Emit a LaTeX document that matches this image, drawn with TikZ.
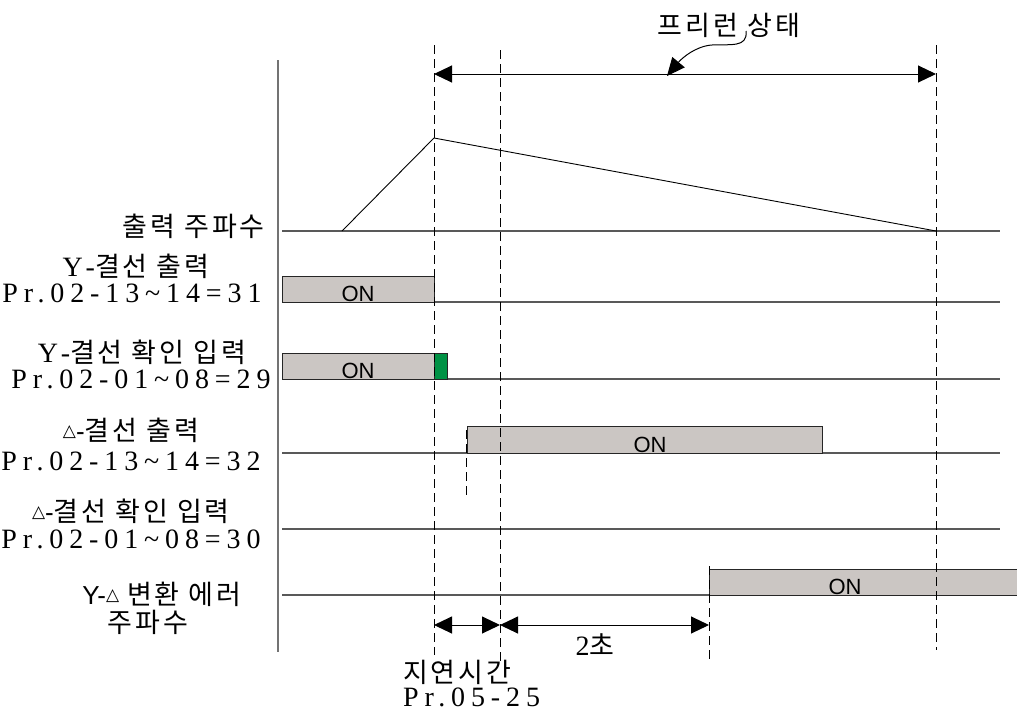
\documentclass[tikz,border=0pt]{standalone}
\usepackage{fontspec}
\setmainfont{Liberation Serif}
\newfontfamily\kr[LetterSpace=11]{Noto Sans CJK KR}
\newfontfamily\sr[LetterSpace=21]{Liberation Serif}
\newfontfamily\ar{Liberation Sans}
\newfontfamily\dv{DejaVu Sans}
\usetikzlibrary{arrows.meta}
\definecolor{boxgray}{HTML}{CBC6C3}
\definecolor{boxgreen}{HTML}{009245}
\newcommand{\tri}{{\dv\fontsize{17}{17}\selectfont\raisebox{4pt}{△}}}
\newcommand{\KR}[1]{{\kr\fontsize{27}{30}\selectfont #1}}
\newcommand{\SR}[1]{{\sr\fontsize{28}{30}\selectfont #1}}
\newcommand{\AR}[1]{{\ar\fontsize{26}{30}\selectfont #1}}
\begin{document}
\begin{tikzpicture}[x=1pt,y=-1pt,
  rowline/.style={draw=black!65, line width=1.1pt},
  axisline/.style={draw=black!55, line width=1.6pt},
  dashline/.style={draw=black, line width=0.9pt, dash pattern=on 9pt off 5pt},
  onbox/.style={draw=black!85, fill=boxgray, line width=0.9pt},
  greenbox/.style={draw=black!85, fill=boxgreen, line width=0.9pt},
  ontext/.style={font=\ar\fontsize{22}{22}\selectfont, anchor=base, inner sep=0pt},
  lbl/.style={inner sep=0pt, anchor=center, text height=18pt, text depth=4pt, yshift=-3pt},
  dimarrow/.style={{Triangle[length=18pt,width=17pt]}-{Triangle[length=18pt,width=17pt]}, line width=1pt},
  curve/.style={line width=1pt}
]
\useasboundingbox (0,0) rectangle (1017,713);

% axis
\coordinate (axT) at (278,60);
\coordinate (axB) at (278,652);
\draw[axisline] (axT) -- (axB);

% row lines
\foreach \n/\y in {r1/231,r2/302,r3/379,r4/453,r5/529,r6/595}{
  \coordinate (\n L) at (282,\y);
  \coordinate (\n R) at (1000,\y);
  \draw[rowline] (\n L) -- (\n R);
}

% boxes
\draw[onbox] (282,276) rectangle (434,302);
\node[ontext] (on1) at (358,301) {ON};
\draw[onbox] (282,353) rectangle (434,379);
\draw[greenbox] (434,353) rectangle (447,379);
\node[ontext] (on2) at (358,378) {ON};
\draw[onbox] (467,426) rectangle (822,453);
\node[ontext] (on3) at (650,452) {ON};
\draw[onbox] (709,569) rectangle (1017,595);
\node[ontext] (on4) at (845,594) {ON};

% dashed lines
\coordinate (d1T) at (434,45);  \coordinate (d1B) at (434,655);
\coordinate (d2T) at (500,50);  \coordinate (d2B) at (500,662);
\coordinate (d3T) at (936,45);  \coordinate (d3B) at (936,650);
\coordinate (d4T) at (466,430); \coordinate (d4B) at (466,497);
\coordinate (d5T) at (709,566); \coordinate (d5B) at (709,662);
\foreach \a in {d1,d2,d3,d4,d5}{ \draw[dashline] (\a T) -- (\a B); }

% output frequency ramp
\coordinate (f0) at (342,231);
\coordinate (f1) at (434,138);
\coordinate (f2) at (936,231);
\draw[line width=0.9pt] (f0) -- (f1) -- (f2);

% top arrow (free-run)
\coordinate (ta) at (434,74);
\coordinate (tb) at (936,74);
\draw[dimarrow] (ta) -- (tb);
\node[lbl] (title) at (729,25) {\KR{프리런 상태}};
\coordinate (cs) at (746,31);
\coordinate (ce) at (667,76);
\draw[curve, -{Triangle[length=18pt,width=16pt]}] (cs) .. controls (748,48) and (730,44) .. (712,45) .. controls (696,46) and (682,58) .. (ce);

% bottom arrows
\coordinate (ba) at (434,625);
\coordinate (bb) at (500,625);
\coordinate (bc) at (709,625);
\draw[dimarrow] (ba) -- (bb);
\draw[dimarrow] (bb) -- (bc);
\node[lbl] (two) at (595,645) {\SR{2}\KR{초}};
\node[lbl, anchor=west] (delay) at (403,672) {\KR{지연시간}};
\node[lbl, anchor=west] (delaypr) at (403,696) {\SR{Pr.05-25}};

% left labels
\node[lbl, anchor=east] (l0) at (265,226) {\KR{출력 주파수}};
\node[lbl] (l1a) at (136,266) {\SR{Y-}\KR{결선 출력}};
\node[lbl] (l1b) at (132,292) {\SR{Pr.02-13\textasciitilde14=31}};
\node[lbl] (l2a) at (142,352) {\SR{Y-}\KR{결선 확인 입력}};
\node[lbl] (l2b) at (141,378) {\SR{Pr.02-01\textasciitilde08=29}};
\node[lbl] (l3a) at (131,430) {\tri\AR{-}\KR{결선 출력}};
\node[lbl] (l3b) at (131,460) {\SR{Pr.02-13\textasciitilde14=32}};
\node[lbl] (l4a) at (131,511) {\tri\AR{-}\KR{결선 확인 입력}};
\node[lbl] (l4b) at (131,538) {\SR{Pr.02-01\textasciitilde08=30}};
\node[lbl] (l5a) at (162,594) {\AR{Y-}\tri\hspace{8pt}\KR{변환 에러}};
\node[lbl] (l5b) at (148,622) {\KR{주파수}};
\end{tikzpicture}
\end{document}
